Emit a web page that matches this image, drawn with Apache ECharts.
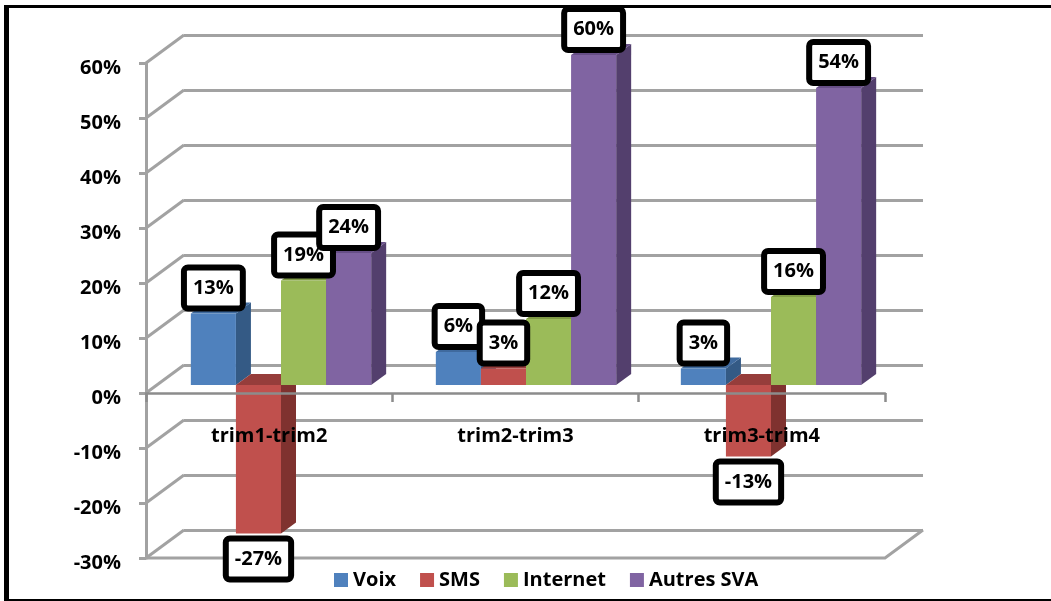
<!DOCTYPE html>
<html>

<head>
    <meta charset="utf-8">
    <script src="https://cdn.jsdelivr.net/npm/echarts@6/dist/echarts.min.js"></script>
    <style>
        html, body { margin: 0; height: 100%; background: #fff; }
        #main { width: 1051px; height: 601px; }
    </style>
</head>

<body>
    <div id="main"></div>
    <script type="text/javascript">
        var categories = ['trim1-trim2', 'trim2-trim3', 'trim3-trim4'];
        var seriesNames = ['Voix', 'SMS', 'Internet', 'Autres SVA'];
        var voix = [13, 6, 3];
        var sms = [-27, 3, -13];
        var internet = [19, 12, 16];
        var autres = [24, 60, 54];
        var allValues = [voix, sms, internet, autres];
        var yTicks = [60, 50, 40, 30, 20, 10, 0, -10, -20, -30];

        var frontColors = ['#4f81bd', '#c0504d', '#9bbb59', '#8064a2'];
        var sideColors = ['#345a85', '#7f322f', '#6b8339', '#533f6d'];
        var topColors = ['#3f6a9e', '#963d3b', '#7f9a45', '#674f87'];

        var gridGrey = '#a2a2a2';
        var font = '"Open Sans", "Noto Sans", sans-serif';
        var backShift = [38, -28];
        var barDepth = [15, -11];
        var barShare = 0.184;

        function pts(list) {
            return { points: list };
        }

        // one 3d looking bar: front face plus top and side
        function barRenderer(s) {
            return function (params, api) {
                var cat = api.value(0);
                var band = api.size([1, 0])[0];
                var w = band * barShare;
                var base = api.coord([cat, 0]);
                var end = api.coord([cat, api.value(1)]);
                var x0 = base[0] + (s - 2) * w;
                var x1 = x0 + w;
                var yTop = Math.min(base[1], end[1]);
                var yBot = Math.max(base[1], end[1]);
                var dx = barDepth[0], dy = barDepth[1];
                return {
                    type: 'group',
                    children: [
                        { type: 'polygon', shape: pts([[x1, yTop], [x1 + dx, yTop + dy], [x1 + dx, yBot + dy], [x1, yBot]]), style: { fill: sideColors[s] } },
                        { type: 'polygon', shape: pts([[x0, yTop], [x0 + dx, yTop + dy], [x1 + dx, yTop + dy], [x1, yTop]]), style: { fill: topColors[s] } },
                        { type: 'rect', shape: { x: x0, y: yTop, width: w, height: yBot - yTop }, style: { fill: frontColors[s] } }
                    ]
                };
            };
        }

        function labelRenderer(params, api) {
            var s = api.value(2);
            var v = api.value(1);
            var w = api.size([1, 0])[0] * barShare;
            var p = api.coord([api.value(0), v]);
            return {
                type: 'text',
                style: {
                    x: p[0] + (s - 1.5) * w,
                    y: p[1] + (v < 0 ? 25.5 : -25.5),
                    text: v + '%',
                    align: 'center',
                    verticalAlign: 'middle',
                    fontFamily: font,
                    fontWeight: 'bold',
                    fontSize: 20,
                    fill: '#000',
                    backgroundColor: '#fff',
                    borderColor: '#000',
                    borderWidth: 6,
                    borderRadius: 1,
                    padding: [8, 6, 7, 6]
                }
            };
        }

        // the slanted wall lines from the front axis to the back wall
        function slantRenderer(params, api) {
            var p = api.coord([0, api.value(0)]);
            var x = params.coordSys.x;
            return {
                type: 'line',
                shape: { x1: x, y1: p[1], x2: x + backShift[0], y2: p[1] + backShift[1] },
                style: { stroke: gridGrey, lineWidth: 3 }
            };
        }

        function floorRenderer(params, api) {
            var y = api.coord([0, api.value(0)])[1];
            var c = params.coordSys;
            return {
                type: 'polyline',
                shape: pts([[c.x, y], [c.x + c.width, y], [c.x + c.width + backShift[0], y + backShift[1]]]),
                style: { stroke: gridGrey, lineWidth: 3, fill: null }
            };
        }

        var labelData = [];
        categories.forEach(function (c, i) {
            allValues.forEach(function (vals, s) {
                labelData.push([i, vals[i], s]);
            });
        });

        var series = [
            { type: 'custom', name: 'slants', xAxisIndex: 0, yAxisIndex: 0, z: 1, silent: true, data: yTicks.map(function (v) { return [v]; }), renderItem: slantRenderer, encode: { y: 0 } },
            { type: 'custom', name: 'floor', xAxisIndex: 0, yAxisIndex: 0, z: 1, silent: true, data: [[-30]], renderItem: floorRenderer, encode: { y: 0 } }
        ];
        allValues.forEach(function (vals, s) {
            series.push({
                type: 'custom',
                name: seriesNames[s],
                xAxisIndex: 2,
                yAxisIndex: 2,
                z: 3 + s,
                itemStyle: { color: frontColors[s] },
                data: vals.map(function (v, i) { return [i, v]; }),
                renderItem: barRenderer(s),
                encode: { x: 0, y: 1 }
            });
        });
        series.push({
            type: 'custom',
            name: 'labels',
            xAxisIndex: 2,
            yAxisIndex: 2,
            z: 20,
            silent: true,
            data: labelData,
            renderItem: labelRenderer,
            encode: { x: 0, y: 1 }
        });

        var myChart = echarts.init(document.getElementById('main'));
        myChart.setOption({
            animation: false,
            textStyle: { fontFamily: font },
            legend: {
                data: seriesNames,
                left: 334,
                top: 570,
                padding: 0,
                itemWidth: 14,
                itemHeight: 14,
                itemGap: 24,
                icon: 'rect',
                selectedMode: false,
                textStyle: { fontFamily: font, fontWeight: 'bold', fontSize: 20, color: '#000' }
            },
            graphic: [
                { type: 'rect', shape: { x: 4, y: 5, width: 5, height: 596 }, style: { fill: '#000' }, z: 50 },
                { type: 'rect', shape: { x: 4, y: 5, width: 1047, height: 3 }, style: { fill: '#000' }, z: 50 },
                { type: 'rect', shape: { x: 4, y: 599, width: 1047, height: 2 }, style: { fill: '#000' }, z: 50 }
            ],
            grid: [
                { left: 146, top: 63, width: 739, height: 495 },   // front plane, holds the axes
                { left: 184, top: 35, width: 739, height: 495 },   // back wall
                { left: 158.5, top: 55, width: 735, height: 495 }  // plane the bars stand in
            ],
            xAxis: [
                {
                    type: 'category', gridIndex: 0, data: categories, z: 10,
                    axisLine: { onZero: true, lineStyle: { color: '#8c8c8c', width: 2.5 } },
                    axisTick: { show: true, length: 9, lineStyle: { color: '#8c8c8c', width: 2.5 } },
                    axisLabel: { show: false }
                },
                { type: 'category', gridIndex: 1, data: categories, show: false },
                { type: 'category', gridIndex: 2, data: categories, show: false },
                {
                    // the names are written over the bars, so they get their own axis
                    type: 'category', gridIndex: 0, data: categories, position: 'bottom', offset: -132, z: 30,
                    axisLine: { show: false, onZero: false },
                    axisTick: { show: false },
                    axisLabel: { color: '#000', fontFamily: font, fontWeight: 'bold', fontSize: 20, margin: 0 }
                }
            ],
            yAxis: [
                {
                    type: 'value', gridIndex: 0, min: -30, max: 60, interval: 10, z: 2,
                    axisLine: { show: true, onZero: false, lineStyle: { color: gridGrey, width: 3 } },
                    axisTick: { show: true, length: 7, lineStyle: { color: gridGrey, width: 3 } },
                    axisLabel: { color: '#000', fontFamily: font, fontWeight: 'bold', fontSize: 20, margin: 25, verticalAlign: 'top', lineHeight: 11, formatter: '{value}%' },
                    splitLine: { show: false }
                },
                {
                    type: 'value', gridIndex: 1, min: -30, max: 60, interval: 10,
                    axisLine: { show: false },
                    axisTick: { show: false },
                    axisLabel: { show: false },
                    splitLine: { show: true, lineStyle: { color: gridGrey, width: 3 } }
                },
                { type: 'value', gridIndex: 2, min: -30, max: 60, interval: 10, show: false, splitLine: { show: false } }
            ],
            series: series
        });
    </script>
</body>

</html>
